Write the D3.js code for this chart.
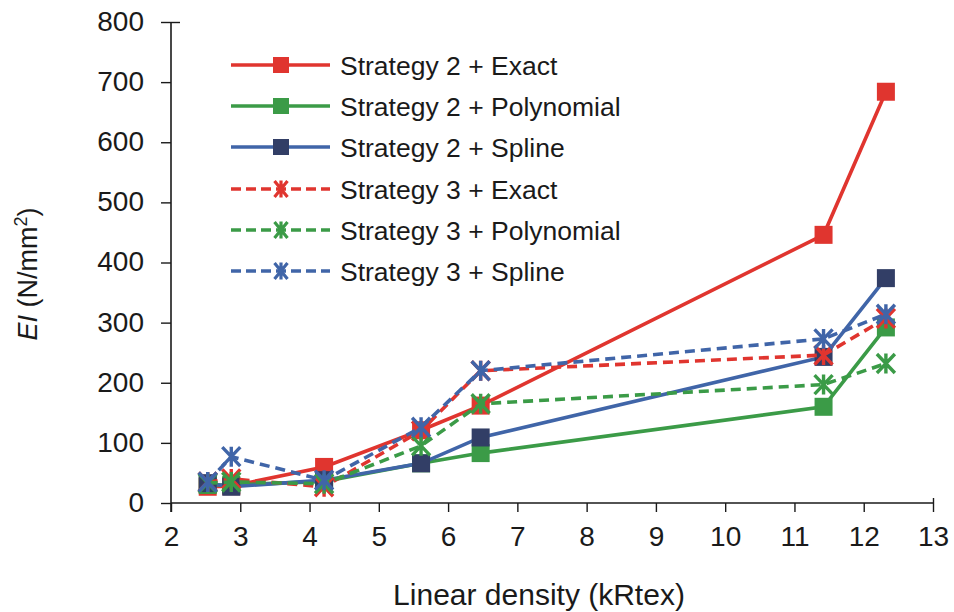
<!DOCTYPE html>
<html>
<head>
<meta charset="utf-8">
<script src="https://cdn.jsdelivr.net/npm/d3@7"></script>
<style>
  html, body { margin: 0; padding: 0; background: #ffffff; }
  svg { display: block; font-family: "Liberation Sans", Arial, Helvetica, sans-serif; }
</style>
</head>
<body>
<svg id="chart" width="954" height="612"></svg>
<script>
// Linear density (kRtex) of each sample
const density = [2.53, 2.87, 4.21, 5.61, 6.47, 11.42, 12.32];

// Bending rigidity EI (N/mm²) per strategy / fitting method
const s2Exact      = [27, 28, 60, 121, 162, 446, 684];
const s2Polynomial = [30, 30, 36, 66, 83, 160, 292];
const s2Spline     = [33, 27, 38, 66, 109, 243, 374];
const s3Exact      = [35, 40, 27, 120, 220, 246, 307];
const s3Polynomial = [33, 35, 32, 95, 165, 197, 232];
const s3Spline     = [35, 77, 38, 126, 220, 273, 314];

const seriesNames = [
  "Strategy 2 + Exact", "Strategy 2 + Polynomial", "Strategy 2 + Spline",
  "Strategy 3 + Exact", "Strategy 3 + Polynomial", "Strategy 3 + Spline"
];
const xTicks = [2, 3, 4, 5, 6, 7, 8, 9, 10, 11, 12, 13];
const yTicks = [0, 100, 200, 300, 400, 500, 600, 700, 800];

const RED = "#e0352f", GREEN = "#3b9b47", BLUE = "#4065a8", NAVY = "#323e66";

const series = [
  { name: seriesNames[0], values: s2Exact,      line: RED,   fill: RED,   dashed: false, marker: "square" },
  { name: seriesNames[1], values: s2Polynomial, line: GREEN, fill: GREEN, dashed: false, marker: "square" },
  { name: seriesNames[2], values: s2Spline,     line: BLUE,  fill: NAVY,  dashed: false, marker: "square" },
  { name: seriesNames[3], values: s3Exact,      line: RED,   fill: RED,   dashed: true,  marker: "star" },
  { name: seriesNames[4], values: s3Polynomial, line: GREEN, fill: GREEN, dashed: true,  marker: "star" },
  { name: seriesNames[5], values: s3Spline,     line: BLUE,  fill: BLUE,  dashed: true,  marker: "star" }
];

const svg = d3.select("#chart");
const x = d3.scaleLinear().domain([2, 13]).range([171, 933]);
const y = d3.scaleLinear().domain([0, 800]).range([503, 22]);

// Axes
const axisColor = "#1a1a1a";
const xAxis = svg.append("g")
  .attr("transform", `translate(0,${y(0)})`)
  .call(d3.axisBottom(x).tickValues(xTicks).tickSize(9).tickPadding(14).tickFormat(d3.format("d")));
const yAxis = svg.append("g")
  .attr("transform", `translate(${x(2)},0)`)
  .call(d3.axisLeft(y).tickValues(yTicks).tickSize(10).tickPadding(17).tickFormat(d3.format("d")));

[xAxis, yAxis].forEach(g => {
  g.select(".domain").attr("stroke", axisColor).attr("stroke-width", 1.6);
  g.selectAll(".tick line").attr("stroke", axisColor).attr("stroke-width", 1.4);
  g.selectAll(".tick text").attr("fill", "#1a1a1a").attr("font-size", 28);
});
// end-of-axis ticks cross the axis line
xAxis.selectAll(".tick").filter(d => d === 13).select("line").attr("y1", -5);
yAxis.selectAll(".tick").filter(d => d === 800).select("line").attr("x1", 9);
xAxis.select(".domain").attr("d", `M${x(2)},0H${x(13)}`);
yAxis.select(".domain").attr("d", `M0,${y(0) + 9}V${y(800)}`);
yAxis.selectAll(".tick text").attr("dy", "0.3em");

// Axis titles
svg.append("text")
  .attr("x", 539).attr("y", 605)
  .attr("text-anchor", "middle")
  .attr("font-size", 30)
  .attr("fill", "#1a1a1a")
  .text("Linear density (kRtex)");

const yTitle = svg.append("text")
  .attr("transform", "translate(37,274) rotate(-90)")
  .attr("text-anchor", "middle")
  .attr("font-size", 27)
  .attr("fill", "#1a1a1a");
yTitle.append("tspan").attr("font-style", "italic").text("EI");
yTitle.append("tspan").text(" (N/mm");
yTitle.append("tspan").attr("font-size", 18).attr("dy", -10).text("2");
yTitle.append("tspan").attr("dy", 10).text(")");

// Marker drawing helpers
function drawSquare(g, cx, cy, size, color) {
  g.append("rect")
    .attr("x", cx - size / 2).attr("y", cy - size / 2)
    .attr("width", size).attr("height", size)
    .attr("fill", color);
}
function drawStar(g, cx, cy, hw, hh, color, sw) {
  const p = `M${cx - hw},${cy - hh}L${cx + hw},${cy + hh}` +
            `M${cx + hw},${cy - hh}L${cx - hw},${cy + hh}` +
            `M${cx},${cy - hh * 1.05}L${cx},${cy + hh * 1.05}`;
  g.append("path").attr("d", p).attr("stroke", color)
    .attr("stroke-width", sw).attr("fill", "none");
}

const lineGen = d3.line().x(d => x(d[0])).y(d => y(d[1]));

// Series: line then markers, in order
series.forEach(s => {
  const g = svg.append("g");
  const pts = density.map((d, i) => [d, s.values[i]]);
  g.append("path")
    .attr("d", lineGen(pts))
    .attr("fill", "none")
    .attr("stroke", s.line)
    .attr("stroke-width", 3.6)
    .attr("stroke-dasharray", s.dashed ? "10,6" : null);
  pts.forEach(p => {
    if (s.marker === "square") drawSquare(g, x(p[0]), y(p[1]), 18, s.fill);
    else drawStar(g, x(p[0]), y(p[1]), 9, 9.5, s.fill, 3.4);
  });
});

// Legend
const legendY = [65, 106, 147, 189, 230, 271];
const legend = svg.append("g");
series.forEach((s, i) => {
  const cy = legendY[i];
  legend.append("line")
    .attr("x1", 231).attr("x2", 330).attr("y1", cy).attr("y2", cy)
    .attr("stroke", s.line).attr("stroke-width", 3.6)
    .attr("stroke-dasharray", s.dashed ? "10,5" : null);
  if (s.marker === "square") drawSquare(legend, 281, cy, 16, s.fill);
  else drawStar(legend, 281, cy, 6.5, 8, s.fill, 3.2);
  legend.append("text")
    .attr("x", 340).attr("y", cy + 9.5)
    .attr("font-size", 26.5)
    .attr("fill", "#1a1a1a")
    .text(s.name);
});
</script>
</body>
</html>
